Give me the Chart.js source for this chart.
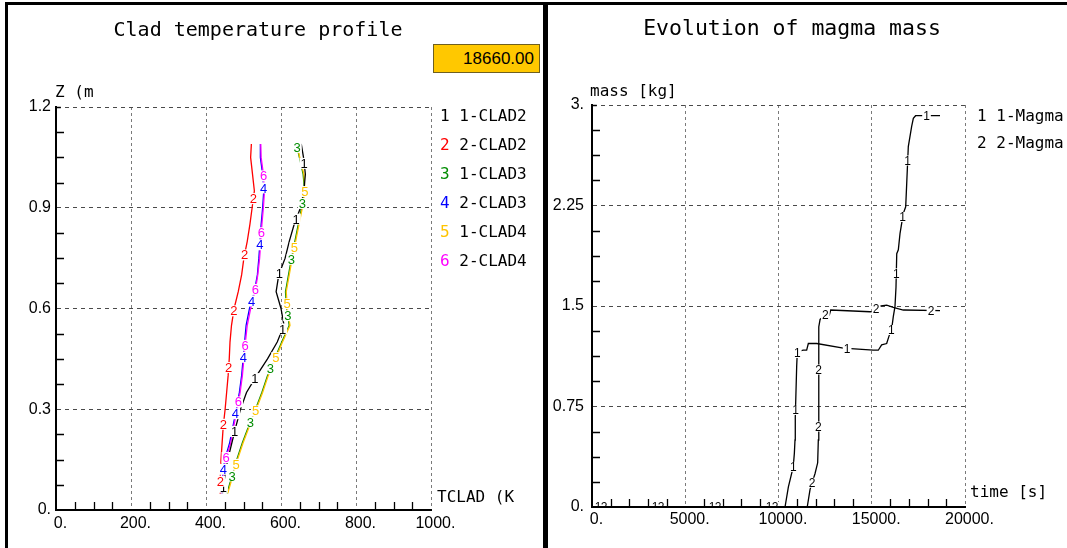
<!DOCTYPE html>
<html><head><meta charset="utf-8">
<script src="https://cdn.jsdelivr.net/npm/chart.js@4.4.1/dist/chart.umd.min.js"></script>
<style>
html,body{margin:0;padding:0;background:#fff;width:1067px;height:548px;overflow:hidden;position:relative}
.abs{position:absolute;white-space:nowrap;color:#000}
.mono{font-family:'DejaVu Sans Mono',monospace}
.bar{position:absolute;background:#000}
</style></head><body>
<canvas id="c1" width="544" height="548" style="position:absolute;left:0;top:0"></canvas>
<canvas id="c2" width="519" height="548" style="position:absolute;left:548px;top:0"></canvas>
<div class="bar" style="left:5px;top:2px;width:1062px;height:3px"></div>
<div class="bar" style="left:5px;top:2px;width:3px;height:546px"></div>
<div class="bar" style="left:543px;top:2px;width:5px;height:546px"></div>
<div id="t1" class="abs mono" style="left:258px;top:17px;font-size:20px;line-height:24px;transform:translateX(-50%)"></div>
<div id="t2" class="abs mono" style="left:792px;top:16px;font-size:21.5px;line-height:24px;transform:translateX(-50%)"></div>
<div id="box" class="abs" style="left:433px;top:44px;width:107px;height:29px;box-sizing:border-box;background:#FFC800;border:1px solid #6f6020;text-align:right;padding-right:5px;font:17px 'Liberation Sans',sans-serif;line-height:27px"></div>
<div id="yt1" class="abs mono" style="left:55px;top:82px;font-size:16px;line-height:20px"></div>
<div id="xt1" class="abs mono" style="left:437px;top:487px;font-size:16px;line-height:20px"></div>
<div id="yt2" class="abs mono" style="left:590px;top:81px;font-size:16px;line-height:20px"></div>
<div id="xt2" class="abs mono" style="left:970px;top:482px;font-size:16px;line-height:20px"></div>
<div id="leg1"></div><div id="leg2"></div>
<script>
// ---------- data ----------
const title1 = 'Clad temperature profile';
const title2 = 'Evolution of magma mass';
const timeStamp = '18660.00';
const axisZ = 'Z (m', axisT = 'TCLAD (K', axisMass = 'mass [kg]', axisTime = 'time [s]';

const zLevels = [0.05,0.1,0.15,0.2,0.25,0.3,0.35,0.4,0.45,0.5,0.55,0.6,0.65,0.7,0.75,0.8,0.85,0.9,0.95,1.0,1.05,1.09];
const clad2_1 = [444,450,458,469,480,492,508,535,564,590,608,600,587,594,611,622,635,652,661,665,660,654];
const clad2_2 = [439,438,440,443,446,451,455,459,462,464,468,475,486,495,501,510,517,523,529,524,519,521];
const clad3_1 = [456,469,482,497,514,532,549,564,583,602,622,615,612,620,628,637,646,655,663,659,649,641];
const clad3_2 = [441,444,450,463,472,481,489,495,499,503,507,516,529,537,541,544,547,551,554,551,545,545];
const clad4_1 = [458,471,484,499,516,534,551,566,585,604,624,617,614,622,630,639,648,657,664,661,650,642];
const clad4_2 = [443,446,452,466,474,483,491,497,501,505,510,519,531,538,543,546,549,553,556,553,547,546];
const cladNames = ['1-CLAD2','2-CLAD2','1-CLAD3','2-CLAD3','1-CLAD4','2-CLAD4'];
const cladColors = ['#000000','#ff0000','#008c00','#0000ff','#ffc400','#ff00ff'];
const cladOrder = [1,6,4,5,3,2];

const time1 = [0,10350,10530,10790,10850,10885,10900,10975,11010,11330,11510,11600,12050,13475,15080,15350,15530,15800,15925,16070,16155,16245,16300,16340,16425,16515,16690,16820,16875,16960,17140,17230,17350,18660];
const mass1 = [0,0,0.15,0.3,0.4,0.5,0.67,1.05,1.16,1.17,1.17,1.22,1.22,1.185,1.17,1.17,1.21,1.22,1.275,1.33,1.42,1.495,1.64,1.89,1.92,2.04,2.19,2.24,2.415,2.69,2.84,2.9,2.92,2.92];
const time2 = [0,11540,11690,11960,12100,12135,12150,12170,12230,12585,12650,12720,12800,14905,15150,15265,15405,15800,16155,16690,18660];
const mass2 = [0,0,0.13,0.25,0.33,0.5,0.95,1.345,1.40,1.44,1.43,1.43,1.47,1.457,1.46,1.483,1.5,1.507,1.49,1.47,1.465];
const magmaNames = ['1-Magma','2-Magma'];
const magmaColors = ['#000000','#000000'];

const tempTicks = {min:0,max:1000,step:200,minor:4};
const zTicks = {min:0,max:1.2,step:0.3,minor:4};
const timeTicks = {min:0,max:20000,step:5000,minor:5};
const massTicks = {min:0,max:3,step:0.75,minor:4};

// ---------- text ----------
document.getElementById('t1').textContent = title1;
document.getElementById('t2').textContent = title2;
document.getElementById('box').textContent = timeStamp;
document.getElementById('yt1').textContent = axisZ;
document.getElementById('xt1').textContent = axisT;
document.getElementById('yt2').textContent = axisMass;
document.getElementById('xt2').textContent = axisTime;
function legend(el, names, colors, left, top0, dy){
  names.forEach((n,i)=>{
    const d=document.createElement('div');
    d.className='abs mono';
    d.style.cssText=`left:${left}px;top:${top0+i*dy-10}px;font-size:16px;line-height:20px`;
    const s=document.createElement('span'); s.style.color=colors[i]; s.textContent=String(i+1);
    d.appendChild(s); d.appendChild(document.createTextNode(' '+n));
    el.appendChild(d);
  });
}
legend(document.getElementById('leg1'), cladNames, cladColors, 440, 116, 29);
legend(document.getElementById('leg2'), magmaNames, magmaColors, 977, 116, 27);

// ---------- plugins ----------
function fmt(v){
  if (Math.abs(v-Math.round(v))<1e-9) return '  '+Math.round(v)+'.';
  return '  '+parseFloat(v.toFixed(4)).toString();
}
function fmtY(v){
  if (Math.abs(v-Math.round(v))<1e-9) return Math.round(v)+'.';
  return parseFloat(v.toFixed(4)).toString();
}
const minorTicks = {
  id:'minorTicks',
  afterDatasetsDraw(chart, args, o){
    const {ctx, chartArea:a, scales:{x,y}} = chart;
    ctx.save(); ctx.strokeStyle='#000'; ctx.lineWidth=1.3;
    const L=o.len||8;
    const xt=x.ticks.map(t=>t.value), yt=y.ticks.map(t=>t.value);
    ctx.beginPath();
    for(let i=0;i<xt.length-1;i++) for(let k=1;k<o.xdiv;k++){
      const px=Math.round(x.getPixelForValue(xt[i]+(xt[i+1]-xt[i])*k/o.xdiv))+0.5;
      ctx.moveTo(px,a.bottom); ctx.lineTo(px,a.bottom-L);
    }
    for(let i=0;i<yt.length-1;i++) for(let k=1;k<o.ydiv;k++){
      const py=Math.round(y.getPixelForValue(yt[i]+(yt[i+1]-yt[i])*k/o.ydiv))+0.5;
      ctx.moveTo(a.left,py); ctx.lineTo(a.left+L,py);
    }
    const top=Math.round(y.getPixelForValue(yt[yt.length-1]))+0.5;
    ctx.moveTo(a.left,top); ctx.lineTo(a.left+L*0.6,top);
    ctx.stroke(); ctx.restore();
  }
};
const digitLabels = {
  id:'digitLabels',
  afterDatasetsDraw(chart, args, o){
    const ctx=chart.ctx, a=chart.chartArea;
    ctx.save();
    ctx.beginPath(); ctx.rect(a.left+1,a.top,a.right-a.left-1,a.bottom-a.top-1); ctx.clip();
    ctx.font=o.font; ctx.textAlign='center'; ctx.textBaseline='middle';
    chart.data.datasets.forEach((ds,i)=>{
      const pts=chart.getDatasetMeta(i).data;
      let next=o.step*(i+1), acc=0;
      for(let k=1;k<pts.length;k++){
        const p=pts[k-1], q=pts[k];
        const seg=Math.hypot(q.x-p.x,q.y-p.y);
        if(seg>0){
          while(next<=acc+seg){
            const t=(next-acc)/seg;
            const x=p.x+(q.x-p.x)*t, y=p.y+(q.y-p.y)*t;
            const w=ctx.measureText(ds.tag).width;
            ctx.fillStyle='#fff'; ctx.fillRect(x-w/2-1,y-o.h/2,w+2,o.h);
            ctx.fillStyle=ds.borderColor; ctx.fillText(ds.tag,x,y+1);
            next+=o.spacing;
          }
        }
        acc+=seg;
      }
    });
    ctx.restore();
  }
};

function axes(xr, yr, xH, yW, xPad, yPad){
  const tickFont={family:'Liberation Sans', size:16};
  return {
    x:{type:'linear',min:xr.min,max:xr.max,
       afterFit:s=>{s.height=xH;},
       ticks:{stepSize:xr.step,autoSkip:false,maxRotation:0,padding:xPad,color:'#000',font:tickFont,callback:v=>fmt(v)},
       grid:{drawTicks:false,lineWidth:1,color:c=>(c.tick&&c.tick.value===xr.min)?'rgba(0,0,0,0)':'#7a7a7a'},
       border:{display:true,color:'#000',width:2,dash:[3,3]}},
    y:{type:'linear',min:yr.min,max:yr.max,
       afterFit:s=>{s.width=yW;},
       ticks:{stepSize:yr.step,autoSkip:false,padding:yPad,color:'#000',font:tickFont,callback:v=>fmtY(v)},
       grid:{drawTicks:false,lineWidth:1,color:c=>(c.tick&&c.tick.value===yr.min)?'rgba(0,0,0,0)':'#4a4a4a'},
       border:{display:true,color:'#000',width:2,dash:[4,4]}}
  };
}

const cladSeries=[clad2_1,clad2_2,clad3_1,clad3_2,clad4_1,clad4_2];
new Chart(document.getElementById('c1'),{
  type:'scatter',
  data:{datasets:cladSeries.map((s,i)=>({
    label:cladNames[i], tag:String(i+1),
    data:s.map((t,k)=>({x:t,y:zLevels[k]})),
    showLine:true, borderColor:cladColors[i], backgroundColor:cladColors[i],
    borderWidth:1.3, pointRadius:0, order:cladOrder[i]
  }))},
  options:{responsive:false,animation:false,
    layout:{padding:{left:0,right:544-431,top:107,bottom:0}},
    plugins:{legend:{display:false},tooltip:{enabled:false},
      digitLabels:{font:'13px Liberation Sans',spacing:57,step:6,h:11},
      minorTicks:{len:8,xdiv:tempTicks.minor,ydiv:zTicks.minor}},
    scales:axes(tempTicks,zTicks,38,56,4,5)},
  plugins:[minorTicks,digitLabels]
});

new Chart(document.getElementById('c2'),{
  type:'scatter',
  data:{datasets:[[time1,mass1],[time2,mass2]].map((s,i)=>({
    label:magmaNames[i], tag:String(i+1),
    data:s[0].map((t,k)=>({x:t,y:s[1][k]})),
    showLine:true, borderColor:magmaColors[i], backgroundColor:magmaColors[i],
    borderWidth:1.3, pointRadius:0
  }))},
  options:{responsive:false,animation:false,
    layout:{padding:{left:0,right:548+519-965,top:105,bottom:0}},
    plugins:{legend:{display:false},tooltip:{enabled:false},
      digitLabels:{font:'12px Liberation Sans',spacing:57,step:6,h:10},
      minorTicks:{len:8,xdiv:timeTicks.minor,ydiv:massTicks.minor}},
    scales:axes(timeTicks,massTicks,41,44,3,8)},
  plugins:[minorTicks,digitLabels]
});
</script>
</body></html>
